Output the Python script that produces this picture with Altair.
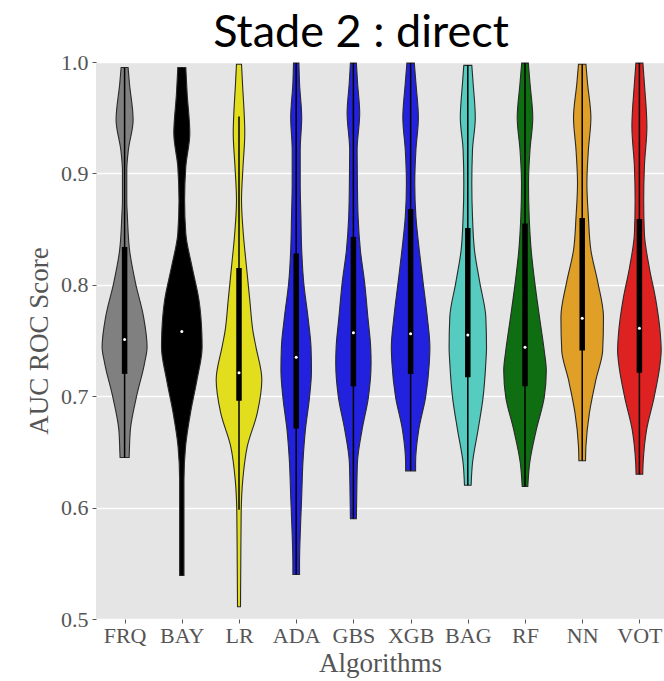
import altair as alt
import pandas as pd

title_text = "Stade 2 : direct"
algos = ["FRQ", "BAY", "LR", "ADA", "GBS", "XGB", "BAG", "RF", "NN", "VOT"]
colors = ["#808080", "#000000", "#e2de1e", "#2121de", "#2121de", "#2121de",
          "#56cbbf", "#0f6e12", "#e09f26", "#de2121"]

# violin outlines: score levels and half-widths (in category units)
frq_y = [0.995, 0.981, 0.948, 0.921, 0.903, 0.876, 0.861, 0.831, 0.802, 0.771, 0.744, 0.730, 0.699, 0.670, 0.649, 0.645]
frq_w = [0.061, 0.084, 0.149, 0.066, 0.038, 0.038, 0.049, 0.087, 0.189, 0.332, 0.393, 0.350, 0.205, 0.101, 0.082, 0.079]
bay_y = [0.995, 0.972, 0.936, 0.906, 0.876, 0.846, 0.816, 0.786, 0.757, 0.744, 0.715, 0.685, 0.655, 0.625, 0.580, 0.539]
bay_w = [0.070, 0.093, 0.140, 0.070, 0.049, 0.070, 0.180, 0.301, 0.350, 0.355, 0.267, 0.152, 0.066, 0.038, 0.038, 0.038]
lr_y = [0.998, 0.981, 0.936, 0.906, 0.876, 0.846, 0.816, 0.786, 0.757, 0.744, 0.715, 0.685, 0.655, 0.625, 0.595, 0.550, 0.511]
lr_w = [0.044, 0.061, 0.101, 0.070, 0.044, 0.075, 0.131, 0.189, 0.248, 0.297, 0.399, 0.320, 0.145, 0.066, 0.038, 0.031, 0.026]
ada_y = [0.999, 0.981, 0.950, 0.921, 0.891, 0.861, 0.831, 0.802, 0.771, 0.744, 0.723, 0.699, 0.670, 0.640, 0.610, 0.580, 0.550, 0.540]
ada_w = [0.047, 0.058, 0.096, 0.070, 0.070, 0.082, 0.096, 0.131, 0.206, 0.259, 0.267, 0.233, 0.161, 0.117, 0.096, 0.073, 0.058, 0.058]
gbs_y = [0.999, 0.981, 0.954, 0.921, 0.891, 0.861, 0.831, 0.802, 0.771, 0.744, 0.730, 0.699, 0.670, 0.640, 0.610, 0.590]
gbs_w = [0.052, 0.073, 0.110, 0.065, 0.070, 0.082, 0.122, 0.196, 0.253, 0.302, 0.309, 0.262, 0.152, 0.070, 0.058, 0.052]
xgb_y = [0.999, 0.981, 0.950, 0.921, 0.891, 0.861, 0.831, 0.802, 0.771, 0.744, 0.730, 0.699, 0.670, 0.640, 0.633]
xgb_w = [0.065, 0.093, 0.136, 0.093, 0.073, 0.093, 0.152, 0.219, 0.292, 0.337, 0.327, 0.262, 0.143, 0.087, 0.087]
bag_y = [0.997, 0.981, 0.950, 0.921, 0.891, 0.861, 0.831, 0.802, 0.771, 0.744, 0.730, 0.699, 0.670, 0.640, 0.620]
bag_w = [0.070, 0.093, 0.131, 0.082, 0.070, 0.082, 0.117, 0.210, 0.315, 0.327, 0.315, 0.267, 0.180, 0.082, 0.058]
rf_y = [0.999, 0.981, 0.950, 0.921, 0.891, 0.861, 0.831, 0.802, 0.771, 0.741, 0.723, 0.699, 0.670, 0.640, 0.619]
rf_w = [0.058, 0.087, 0.136, 0.087, 0.061, 0.073, 0.108, 0.171, 0.253, 0.336, 0.372, 0.336, 0.198, 0.082, 0.049]
nn_y = [0.998, 0.981, 0.950, 0.921, 0.891, 0.861, 0.831, 0.802, 0.771, 0.741, 0.715, 0.685, 0.655, 0.642]
nn_w = [0.065, 0.093, 0.152, 0.108, 0.082, 0.108, 0.152, 0.274, 0.372, 0.358, 0.241, 0.126, 0.065, 0.058]
vot_y = [0.999, 0.981, 0.942, 0.906, 0.876, 0.846, 0.816, 0.786, 0.757, 0.741, 0.730, 0.699, 0.670, 0.640, 0.630]
vot_w = [0.061, 0.087, 0.131, 0.087, 0.075, 0.087, 0.171, 0.288, 0.364, 0.381, 0.364, 0.257, 0.126, 0.065, 0.058]

# inner box statistics
q1 = [0.720, 0.718, 0.696, 0.671, 0.709, 0.720, 0.717, 0.709, 0.741, 0.721]
q3 = [0.834, 0.810, 0.815, 0.828, 0.843, 0.868, 0.851, 0.855, 0.860, 0.859]
med = [0.751, 0.758, 0.721, 0.735, 0.757, 0.756, 0.755, 0.744, 0.770, 0.761]
wlo = [0.645, 0.539, 0.598, 0.540, 0.590, 0.633, 0.620, 0.619, 0.642, 0.630]
whi = [0.995, 0.995, 0.951, 0.999, 0.999, 0.999, 0.997, 0.999, 0.998, 0.999]

ys = [frq_y, bay_y, lr_y, ada_y, gbs_y, xgb_y, bag_y, rf_y, nn_y, vot_y]
ws = [frq_w, bay_w, lr_w, ada_w, gbs_w, xgb_w, bag_w, rf_w, nn_w, vot_w]

rows = []
for i, (a, yv, wv) in enumerate(zip(algos, ys, ws)):
    for y, w in zip(yv, wv):
        rows.append({"algo": a, "idx": i, "y": y, "lo": i - w, "hi": i + w})
vdf = pd.DataFrame(rows).sort_values(["idx", "y"]).reset_index(drop=True)

bdf = pd.DataFrame({"algo": algos, "idx": list(range(len(algos))),
                    "q1": q1, "q3": q3, "med": med, "wlo": wlo, "whi": whi})

names_js = "[" + ",".join("'%s'" % a for a in algos) + "]"

xscale = alt.Scale(domain=[-0.5, 9.43], nice=False, zero=False)
yscale = alt.Scale(domain=[0.5, 1.0], nice=False, zero=False)

serif = "Liberation Serif"
xaxis = alt.Axis(values=list(range(10)), labelExpr=names_js + "[datum.value]",
                 grid=False, domain=False, tickColor="#555555", tickSize=4,
                 labelFont=serif, labelFontSize=22, labelColor="#555555", labelPadding=2,
                 title="Algorithms", titleFont=serif, titleFontSize=27, titleColor="#555555",
                 titleFontWeight="normal", titleY=52, titleBaseline="alphabetic")
yaxis = alt.Axis(values=[0.5, 0.6, 0.7, 0.8, 0.9, 1.0], format=".1f",
                 grid=True, gridColor="white", gridWidth=1.5, domain=False,
                 tickColor="#555555", tickSize=4,
                 labelFont=serif, labelFontSize=22, labelColor="#555555", labelPadding=4,
                 title="AUC ROC Score", titleFont=serif, titleFontSize=27, titleColor="#555555",
                 titleFontWeight="normal", titleX=-49, titleY=278.5, titleAngle=-90,
                 titleBaseline="alphabetic", titleAlign="center")

violin = alt.Chart(vdf).mark_area(
    orient="horizontal", interpolate="monotone", stroke="#2a2a2a",
    strokeWidth=1.1, fillOpacity=1, clip=True
).encode(
    y=alt.Y("y:Q", scale=yscale, axis=yaxis),
    x=alt.X("lo:Q", scale=xscale, axis=xaxis),
    x2="hi:Q",
    color=alt.Color("algo:N", scale=alt.Scale(domain=algos, range=colors), legend=None),
    detail="algo:N",
)

whisk = alt.Chart(bdf).mark_rule(color="black", strokeWidth=1.5).encode(
    x=alt.X("idx:Q", scale=xscale, axis=xaxis),
    y=alt.Y("wlo:Q", scale=yscale, axis=yaxis),
    y2="whi:Q",
)
box = alt.Chart(bdf).mark_rule(color="black", strokeWidth=5.5).encode(
    x=alt.X("idx:Q", scale=xscale, axis=xaxis),
    y=alt.Y("q1:Q", scale=yscale, axis=yaxis),
    y2="q3:Q",
)
dot = alt.Chart(bdf).mark_circle(color="white", size=9, opacity=1).encode(
    x=alt.X("idx:Q", scale=xscale, axis=xaxis),
    y=alt.Y("med:Q", scale=yscale, axis=yaxis),
)

title = alt.Chart(pd.DataFrame({"t": [title_text]})).mark_text(
    font="Lato", fontSize=45, color="black", align="center", baseline="alphabetic"
).encode(text="t:N", x=alt.value(265), y=alt.value(-15))

chart = alt.layer(violin, whisk, box, dot, title).properties(
    width=568, height=557,
    padding={"left": 96, "top": 62, "right": 0, "bottom": 62},
    autosize=alt.AutoSizeParams(type="none"),
).configure_view(fill="#e5e5e5", strokeWidth=0)

chart.save("out.html", embed_options={"renderer": "svg", "actions": False})
